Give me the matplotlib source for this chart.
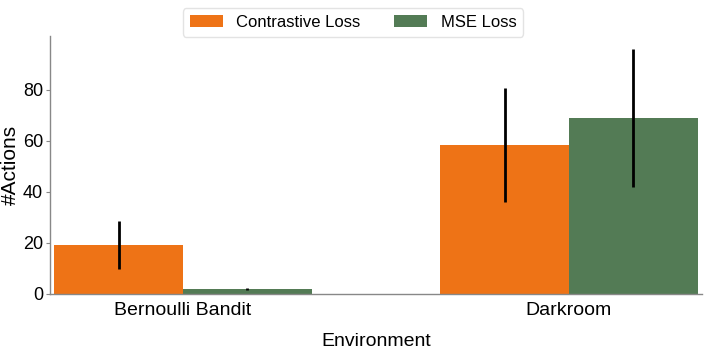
import matplotlib
matplotlib.use("Agg")
import matplotlib.pyplot as plt
import numpy as np

plt.rcParams['font.family'] = ['Liberation Sans', 'DejaVu Sans']

environments = ["Bernoulli Bandit", "Darkroom"]
series_names = ["Contrastive Loss", "MSE Loss"]
contrastive_mean = [19.2, 58.3]
contrastive_err = [9.4, 22.3]
mse_mean = [2.0, 68.9]
mse_err = [0.3, 27.0]
colors = ["#ee7316", "#537b55"]

fig = plt.figure(figsize=(7.06, 3.55), dpi=100)
ax = fig.add_axes([0.071, 0.172, 0.9235, 0.727])

x = np.arange(len(environments))
w = 1 / 3
ax.bar(x - w / 2, contrastive_mean, width=w, color=colors[0], label=series_names[0],
       yerr=contrastive_err, error_kw=dict(ecolor="black", elinewidth=2, capsize=0))
ax.bar(x + w / 2, mse_mean, width=w, color=colors[1], label=series_names[1],
       yerr=mse_err, error_kw=dict(ecolor="black", elinewidth=2, capsize=0))

ax.set_xlim(-0.344, 1.345)
ax.set_ylim(0, 101)
ax.set_xticks(x)
ax.set_xticklabels(environments, fontsize=14)
ax.set_yticks([0, 20, 40, 60, 80])
ax.tick_params(axis='y', labelsize=13, length=3, color="#888888", pad=2)
ax.tick_params(axis='x', length=0, pad=6)
ax.set_xlabel("Environment", fontsize=14, labelpad=10)
ax.set_ylabel("#Actions", fontsize=15, labelpad=2)
for s in ["top", "right"]:
    ax.spines[s].set_visible(False)
for s in ["left", "bottom"]:
    ax.spines[s].set_color("#888888")
    ax.spines[s].set_linewidth(1)

fig.legend(loc="upper center", bbox_to_anchor=(0.5, 1.0), ncol=2, fontsize=12,
           frameon=True, edgecolor="#dddddd", handlelength=2.0, handletextpad=0.8,
           columnspacing=2.0, borderpad=0.4)

fig.savefig("out.png", dpi=100)
